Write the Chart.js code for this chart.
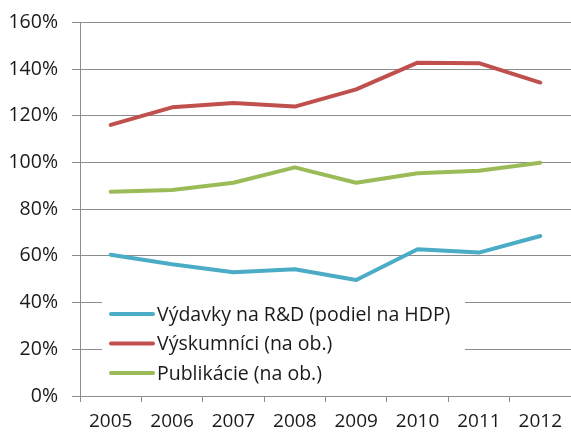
<!DOCTYPE html>
<html>
<head>
<meta charset="utf-8">
<script src="https://cdn.jsdelivr.net/npm/chart.js@4.4.1/dist/chart.umd.min.js"></script>
<style>
  html, body { margin: 0; padding: 0; background: #fff; }
  #wrap { width: 571px; height: 436px; }
</style>
</head>
<body>
<div id="wrap"><canvas id="rd-chart" width="571" height="436"></canvas></div>
<script>
const years = ["2005", "2006", "2007", "2008", "2009", "2010", "2011", "2012"];
const vydavky = [60.5, 56.4, 53.0, 54.3, 49.7, 62.8, 61.4, 68.5];
const vyskumnici = [116.1, 123.6, 125.4, 123.9, 131.3, 142.7, 142.5, 134.2];
const publikacie = [87.5, 88.2, 91.3, 97.9, 91.3, 95.4, 96.4, 99.9];
const yTicks = [0, 20, 40, 60, 80, 100, 120, 140, 160];

const seriesNames = ["Výdavky na R&D (podiel na HDP)", "Výskumníci (na ob.)", "Publikácie (na ob.)"];
const seriesColors = ["#4BACC6", "#C0504D", "#9BBB59"];

const FONT = "'Open Sans', Lato, sans-serif";
const GRID = "#8c8c8c";

// legend drawn inside the plot, on a white box over the gridlines
const innerLegend = {
  id: "innerLegend",
  afterDatasetsDraw(chart) {
    const ctx = chart.ctx;
    const box = { x: 102, y: 298, w: 363, h: 90 };
    ctx.save();
    ctx.fillStyle = "#fff";
    ctx.fillRect(box.x, box.y, box.w, box.h);
    ctx.font = "19.5px " + FONT;
    ctx.textBaseline = "middle";
    ctx.textAlign = "left";
    chart.data.datasets.forEach((ds, i) => {
      const y = 314 + i * 29.5;
      ctx.strokeStyle = ds.borderColor;
      ctx.lineWidth = 4;
      ctx.lineCap = "round";
      ctx.beginPath();
      ctx.moveTo(111, y);
      ctx.lineTo(153, y);
      ctx.stroke();
      ctx.fillStyle = "#1a1a1a";
      ctx.fillText(ds.label, 157, y + 1);
    });
    ctx.restore();
  }
};

const makeSet = (label, data, color) => ({
  label: label,
  data: data,
  borderColor: color,
  backgroundColor: color,
  borderWidth: 4,
  pointRadius: 0,
  tension: 0,
  fill: false,
  borderCapStyle: "round",
  borderJoinStyle: "round"
});

new Chart(document.getElementById("rd-chart"), {
  type: "line",
  data: {
    labels: years,
    datasets: [
      makeSet(seriesNames[0], vydavky, seriesColors[0]),
      makeSet(seriesNames[1], vyskumnici, seriesColors[1]),
      makeSet(seriesNames[2], publikacie, seriesColors[2])
    ]
  },
  options: {
    responsive: false,
    animation: false,
    layout: { padding: 0 },
    plugins: {
      legend: { display: false },
      tooltip: { enabled: false }
    },
    scales: {
      x: {
        offset: true,
        grid: {
          offset: true,
          drawOnChartArea: false,
          drawTicks: true,
          tickLength: 6,
          color: GRID
        },
        border: { color: GRID },
        ticks: {
          color: "#1a1a1a",
          font: { family: FONT, size: 19 },
          padding: 8,
          maxRotation: 0,
          autoSkip: false
        },
        afterFit(scale) { scale.height = 40; scale.paddingLeft = 0; scale.paddingRight = 0; }
      },
      y: {
        min: 0,
        max: 160,
        afterBuildTicks(scale) { scale.ticks = yTicks.map(v => ({ value: v })); },
        grid: { color: GRID, tickLength: 8 },
        border: { color: GRID },
        ticks: {
          color: "#1a1a1a",
          font: { family: FONT, size: 19.5 },
          padding: 14,
          callback: v => v + "%"
        },
        afterFit(scale) { scale.width = 80; scale.paddingTop = 22.3; scale.paddingBottom = 0; }
      }
    }
  },
  plugins: [innerLegend]
});
</script>
</body>
</html>
